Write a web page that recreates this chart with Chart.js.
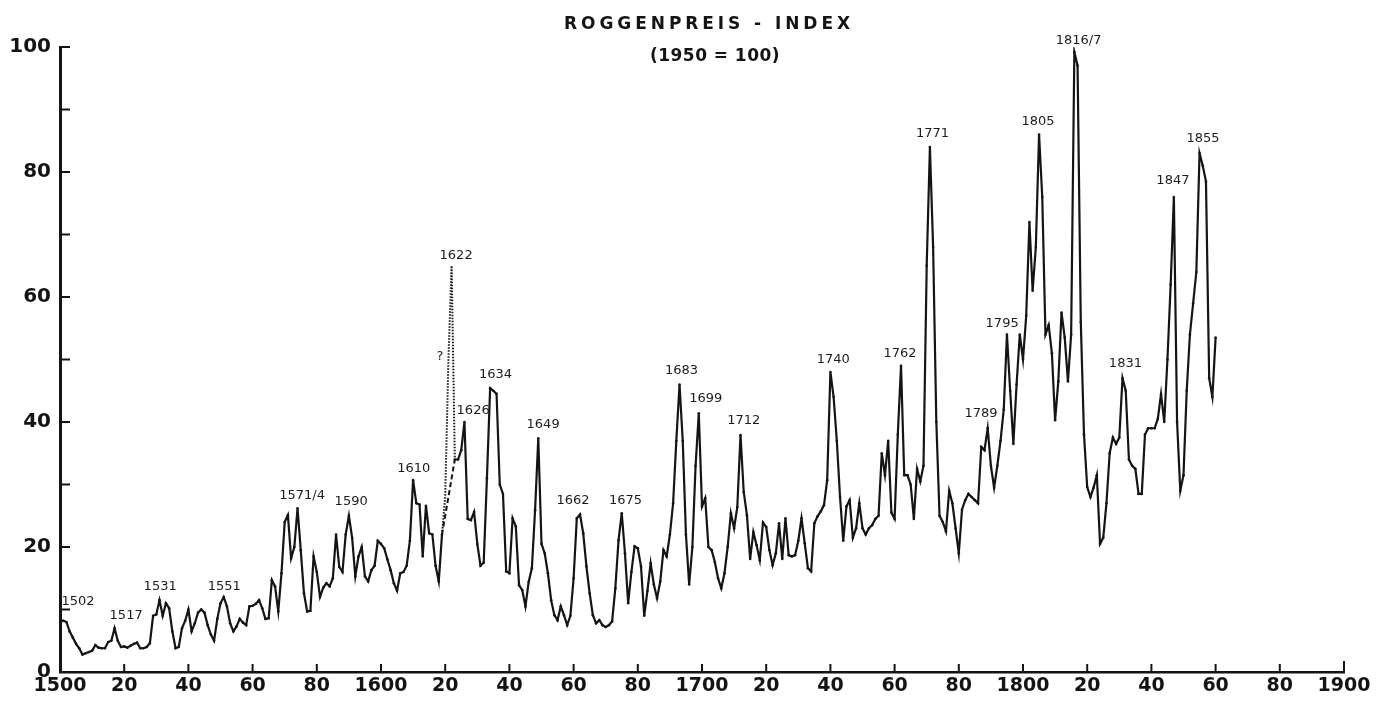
<!DOCTYPE html>
<html>
<head>
<meta charset="utf-8">
<script src="https://cdn.jsdelivr.net/npm/chart.js@4.4.1/dist/chart.umd.min.js"></script>
<style>
html,body{margin:0;padding:0;background:#fff;}
#wrap{width:1386px;height:705px;position:relative;}
</style>
</head>
<body>
<div id="wrap"><canvas id="c"></canvas></div>
<script>
// ---- Data: rye price index (1950 = 100), one value per year ----
const firstYear = 1500;
const rye1500s = [
  8, 8.2, 8, 6.5, 5.5, 4.5, 3.8, 2.8, 3, 3.2,
  3.4, 4.3, 3.9, 3.8, 3.8, 4.8, 5, 7, 5, 4,
  4.1, 3.9, 4.2, 4.5, 4.7, 3.8, 3.8, 4, 4.6, 9,
  9.2, 11.5, 9, 11, 10.2, 6.5, 3.8, 4, 7, 8.2,
  10, 6.5, 7.8, 9.5, 10, 9.5, 7.5, 6, 5, 8.5,
  11, 12, 10.5, 7.8, 6.5, 7.3, 8.5, 7.9, 7.5, 10.5,
  10.6, 10.9, 11.5, 10.2, 8.5, 8.6, 14.7, 13.7, 9.7, 15.8,
  24, 25.1, 18.2, 20, 26.2, 19.5, 12.6, 9.7, 9.8, 18.5,
  16, 12, 13.5, 14.2, 13.7, 15, 22, 16.8, 16, 22,
  25, 21.5, 15.3, 18.5, 20, 15.3, 14.5, 16.3, 17, 21
];
const rye1600s = [
  20.5, 19.8, 18, 16.3, 14.2, 13, 15.8, 16, 17, 21,
  30.7, 27, 26.8, 18.5, 26.6, 22.2, 22, 17, 14.5, 22,
  28, 50, 65, 34, 34, 35.5, 40, 24.5, 24.3, 25.6,
  20.5, 17, 17.5, 31, 45.4, 45, 44.5, 30, 28.5, 16.1,
  15.8, 24.6, 23.3, 13.9, 13.1, 10.5, 14.4, 16.6, 25.9, 37.4,
  20.5, 19, 15.8, 11.5, 9.1, 8.3, 10.5, 9.1, 7.5, 9,
  15, 24.6, 25.2, 22.2, 16.9, 12.6, 9.1, 7.8, 8.3, 7.5,
  7.2, 7.5, 8.1, 13.4, 21.1, 25.4, 19, 11, 16, 20.1,
  19.8, 16.9, 9, 13, 17.4, 14, 11.8, 14.5, 19.5, 18.5,
  22, 27, 37, 46, 37, 22, 14, 20, 33, 41.4
];
const rye1700s = [
  26.5, 27.8, 20, 19.5, 17.6, 15, 13.4, 15.8, 20, 25.4,
  23, 26.4, 37.9, 28.8, 25.1, 18.1, 22.4, 20.3, 17.9, 23.9,
  23.2, 19.5, 17.1, 19, 23.8, 18.1, 24.6, 18.7, 18.5, 18.7,
  21, 24.6, 20.6, 16.6, 16.1, 23.8, 24.9, 25.7, 26.7, 30.7,
  48, 44, 37, 28, 21, 26.5, 27.5, 21.5, 23, 27,
  23, 22, 23, 23.5, 24.5, 25, 35, 31.5, 37, 25.5,
  24.5, 38, 49, 31.5, 31.5, 30, 24.5, 32.5, 30.5, 33,
  65, 84, 68, 40, 25, 24, 22.5, 29, 27, 23,
  19, 26, 27.5, 28.5, 28, 27.5, 27, 36, 35.5, 39,
  33, 29.5, 33, 37, 42, 54, 45, 36.5, 46, 54
];
const rye1800s = [
  50, 57, 72, 61, 68, 86, 76, 54, 55.5, 51,
  40.3, 46.5, 57.5, 53.5, 46.5, 54, 99.2, 97, 56, 38,
  29.6, 28, 29.5, 31.5, 20.5, 21.5, 27, 35, 37.5, 36.5,
  37.5, 47, 45, 34, 33, 32.5, 28.5, 28.5, 38, 39,
  39, 39, 40.5, 44.5, 40, 50, 62, 76, 40, 29,
  31.5, 45, 54, 59, 64, 83, 81, 78.5, 47, 44,
  53.5
];
// uncertain years drawn dotted, plus the dashed alternative path
const uncertainFrom = 1619;
const uncertainTo = 1623;
const bridgeYears = [1619, 1623];
const bridgeValues = [22, 34];

// annotation texts and their anchor in data units (year, index value)
const peakLabels = ['1502','1517','1531','1551','1571/4','1590','1610','1622','1626','1634','1649','1662','1675','1683','1699','1712','1740','1762','1771','1789','1795','1805','1816/7','1831','1847','1855','?'];
const peakLabelYears = [1505.6,1520.6,1531.2,1551.2,1575.4,1590.7,1610.2,1623.4,1628.7,1635.7,1650.5,1659.8,1676.2,1693.6,1701.2,1713,1740.9,1761.7,1771.8,1786.9,1793.5,1804.7,1817.3,1831.9,1846.7,1856.1,1618.4];
const peakLabelValues = [11.2,9.1,13.6,13.6,28.2,27.2,32.5,66.6,41.8,47.6,39.6,27.5,27.5,48.2,43.7,40.2,50,51,86.2,41.4,55.8,88,101.1,49.3,78.6,85.3,50.4];

const xMin = 1500, xMax = 1900, xStep = 20;
const yMin = 0, yMax = 100, yLabelStep = 20, yMinorStep = 10;
const titleText = 'ROGGENPREIS - INDEX';
const subtitleText = '(1950 = 100)';

// ---- build ----
const rye = [...rye1500s, ...rye1600s, ...rye1700s, ...rye1800s];
const mainData = rye.map((v, i) => ({x: firstYear + i, y: v}));
const bridgeData = bridgeYears.map((yr, i) => ({x: yr, y: bridgeValues[i]}));

const INK = '#141414';

function spacedText(ctx, text, cx, cy, width) {
  ctx.letterSpacing = '0px';
  const w0 = ctx.measureText(text).width;
  ctx.letterSpacing = ((width - w0) / text.length).toFixed(2) + 'px';
  ctx.fillText(text, cx, cy);
  ctx.letterSpacing = '0px';
}

const decorPlugin = {
  id: 'decor',
  afterDraw(chart) {
    const {ctx, scales: {x, y}} = chart;
    ctx.save();
    // inward tick marks
    ctx.strokeStyle = INK;
    ctx.lineWidth = 2;
    const left = x.left, bottom = y.bottom;
    for (let v = yMin; v <= yMax; v += yMinorStep) {
      const py = y.getPixelForValue(v);
      ctx.beginPath(); ctx.moveTo(left, py); ctx.lineTo(left + 10, py); ctx.stroke();
    }
    for (let v = xMin; v <= xMax; v += xStep) {
      const px = x.getPixelForValue(v);
      ctx.beginPath(); ctx.moveTo(px, bottom); ctx.lineTo(px, bottom - (v === xMax ? 11 : 8)); ctx.stroke();
    }
    // peak annotations
    ctx.fillStyle = '#1c1c1c';
    ctx.font = '13px "DejaVu Sans"';
    ctx.textAlign = 'center';
    ctx.textBaseline = 'middle';
    peakLabels.forEach((t, i) => {
      ctx.fillText(t, x.getPixelForValue(peakLabelYears[i]), y.getPixelForValue(peakLabelValues[i]));
    });
    // title
    ctx.fillStyle = INK;
    ctx.font = 'bold 17px "DejaVu Sans"';
    spacedText(ctx, titleText, 709, 25, 290);
    ctx.font = 'bold 17px "DejaVu Sans"';
    spacedText(ctx, subtitleText, 715, 57, 130);
    ctx.restore();
  }
};

new Chart(document.getElementById('c'), {
  type: 'line',
  data: {
    datasets: [
      {
        data: mainData,
        borderColor: INK,
        backgroundColor: INK,
        borderWidth: 2.2,
        pointRadius: ctx => {
          const yr = ctx.raw ? ctx.raw.x : 0;
          return (yr > uncertainFrom && yr < uncertainTo) ? 0 : 1.3;
        },
        pointBorderWidth: 0,
        tension: 0,
        segment: {
          borderDash: ctx => (ctx.p0.parsed.x >= uncertainFrom && ctx.p1.parsed.x <= uncertainTo) ? [1.5, 1.5] : undefined,
          borderWidth: ctx => (ctx.p0.parsed.x >= uncertainFrom && ctx.p1.parsed.x <= uncertainTo) ? 2 : 2.2
        }
      },
      {
        data: bridgeData,
        borderColor: INK,
        borderWidth: 2,
        borderDash: [5, 3],
        pointRadius: 0,
        tension: 0
      }
    ]
  },
  options: {
    responsive: true,
    maintainAspectRatio: false,
    animation: false,
    layout: {padding: {top: 47, right: 42, left: 0, bottom: 0}},
    plugins: {legend: {display: false}, tooltip: {enabled: false}, title: {display: false}},
    scales: {
      x: {
        type: 'linear', min: xMin, max: xMax,
        afterFit: s => { s.height = 33; },
        ticks: {
          stepSize: xStep, autoSkip: false, maxRotation: 0, minRotation: 0, padding: 3,
          color: INK, font: {family: 'DejaVu Sans', weight: 'bold', size: 19},
          callback: v => (v % 100 === 0 ? String(v) : String(v % 100))
        },
        grid: {display: false, drawTicks: false},
        border: {display: true, color: INK, width: 2.5}
      },
      y: {
        min: yMin, max: yMax,
        afterFit: s => { s.width = 60; },
        ticks: {
          stepSize: yLabelStep, padding: 9,
          color: INK, font: {family: 'DejaVu Sans', weight: 'bold', size: 20}
        },
        grid: {display: false, drawTicks: false},
        border: {display: true, color: INK, width: 3}
      }
    }
  },
  plugins: [decorPlugin]
});
</script>
</body>
</html>
